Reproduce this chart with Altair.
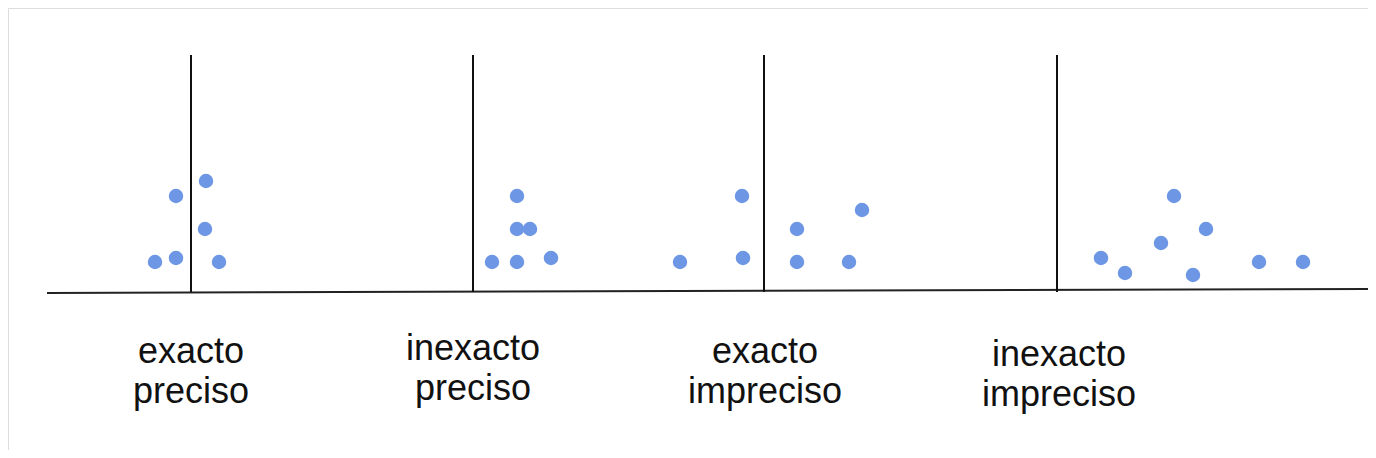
import altair as alt
import pandas as pd

# Category labels and the x position of each group's reference line
labels = ["exacto\npreciso", "inexacto\npreciso", "exacto\nimpreciso", "inexacto\nimpreciso"]
label_x = [191, 473, 765, 1059]
label_y = [87, 90, 87, 84]
center_x = [191, 473, 764, 1057]
line_top = [395, 395, 395, 395]
line_bottom = [158, 158, 158, 158]

# Baseline (slightly tilted)
base_x = [47]
base_x2 = [1368]
base_y = [157]
base_y2 = [161]

# Dots of each group
g1_x = [155, 176, 176, 206, 205, 219]
g1_y = [188, 192, 254, 269, 221, 188]
g2_x = [492, 517, 517, 517, 530, 551]
g2_y = [188, 188, 254, 221, 221, 192]
g3_x = [680, 742, 743, 797, 797, 849, 862]
g3_y = [188, 254, 192, 221, 188, 188, 240]
g4_x = [1101, 1125, 1161, 1174, 1193, 1206, 1259, 1303]
g4_y = [192, 177, 207, 254, 175, 221, 188, 188]

pts = pd.DataFrame({
    "x": g1_x + g2_x + g3_x + g4_x,
    "y": g1_y + g2_y + g3_y + g4_y,
})
vlines = pd.DataFrame({"x": center_x, "y": line_bottom, "y2": line_top})
base = pd.DataFrame({"x": base_x, "x2": base_x2, "y": base_y, "y2": base_y2})
lab = pd.DataFrame({"label": labels, "x": label_x, "y": label_y})

xs = alt.Scale(domain=[8, 1368], nice=False, zero=False)
ys = alt.Scale(domain=[0, 442], nice=False, zero=False)

baseline = alt.Chart(base).mark_rule(color="#222222", strokeWidth=2).encode(
    x=alt.X("x:Q", scale=xs, axis=None),
    x2="x2:Q",
    y=alt.Y("y:Q", scale=ys, axis=None),
    y2="y2:Q",
)

verticals = alt.Chart(vlines).mark_rule(color="#111111", strokeWidth=2).encode(
    x=alt.X("x:Q", scale=xs, axis=None),
    y=alt.Y("y:Q", scale=ys, axis=None),
    y2="y2:Q",
)

dots = alt.Chart(pts).mark_circle(size=210, color="#6d96e4", opacity=1).encode(
    x=alt.X("x:Q", scale=xs, axis=None),
    y=alt.Y("y:Q", scale=ys, axis=None),
)

texts = alt.Chart(lab).mark_text(
    font="Liberation Sans", fontSize=36, color="#111111", align="center",
    baseline="alphabetic", lineBreak="\n", lineHeight=40,
).encode(
    x=alt.X("x:Q", scale=xs, axis=None),
    y=alt.Y("y:Q", scale=ys, axis=None),
    text="label:N",
)

chart = alt.layer(baseline, verticals, dots, texts).properties(
    width=1360, height=442, padding=0,
    autosize=alt.AutoSizeParams(type="none"),
).configure_view(strokeWidth=0, stroke="transparent").configure(background="white")

chart.save("out.html", embed_options={"renderer": "svg", "actions": False})
